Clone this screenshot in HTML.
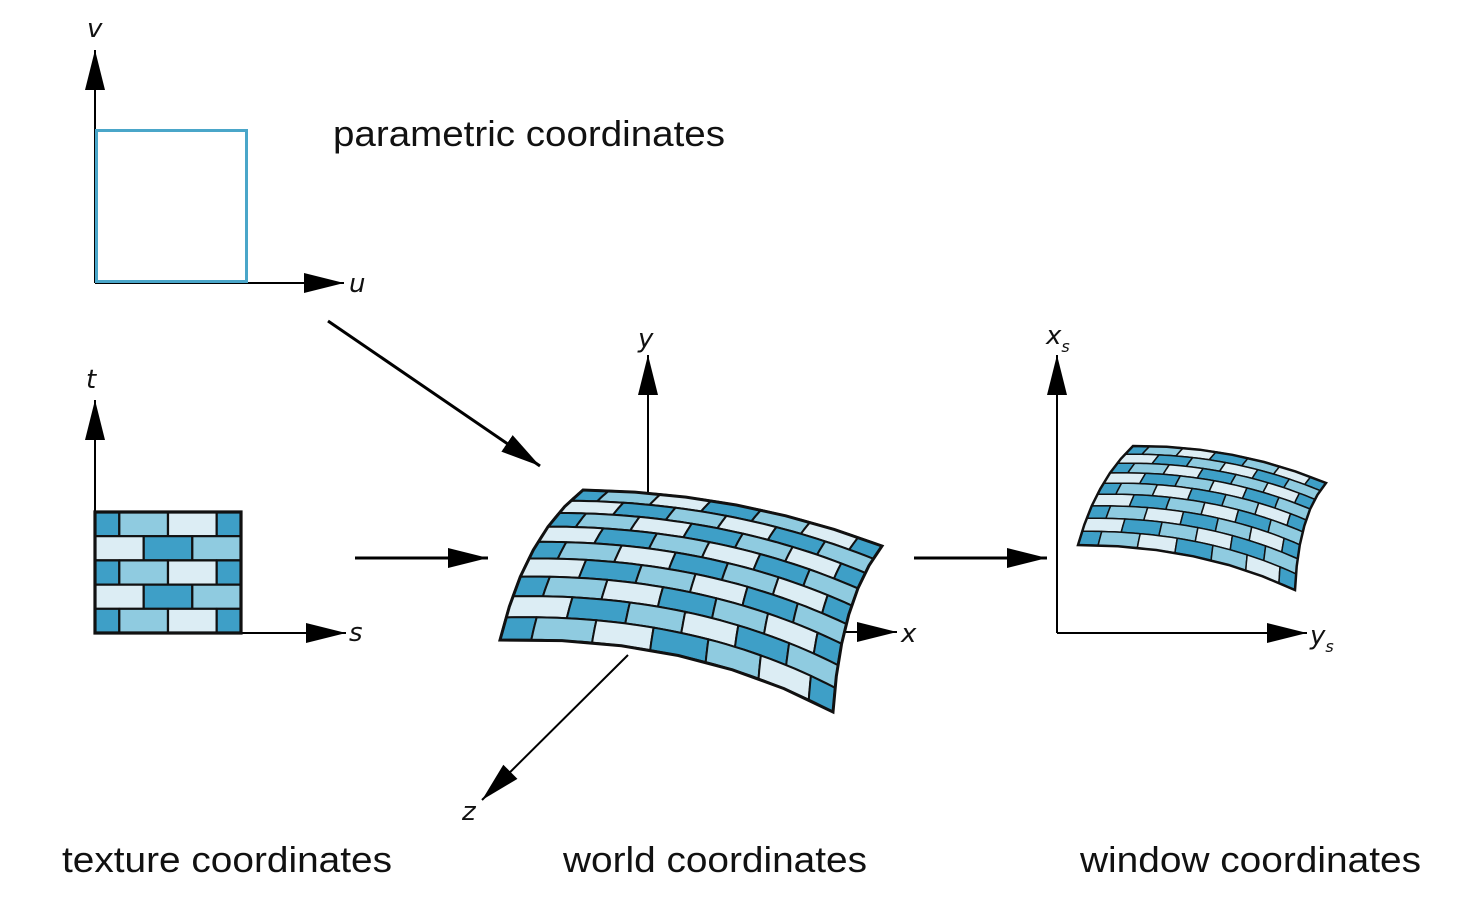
<!DOCTYPE html>
<html><head><meta charset="utf-8"><style>
html,body{margin:0;padding:0;background:#fff;}
svg{display:block;}
.lbl{font-family:"Liberation Sans",sans-serif;font-size:36px;fill:#111;}
.ax{font-family:"DejaVu Sans",sans-serif;font-style:italic;font-size:26px;fill:#111;}
</style></head><body>
<svg id="s" width="1461" height="912" viewBox="0 0 1461 912">
<defs>
<marker id="ahb" viewBox="0 0 10 10" refX="10" refY="5" markerWidth="40" markerHeight="40" markerUnits="userSpaceOnUse" orient="auto">
<path d="M0,2.5 L10,5 L0,7.5 z" fill="#000"/></marker>
</defs>
<g id="axes" stroke="#000" stroke-width="2" fill="none">
<line x1="95" y1="283" x2="95" y2="50" marker-end="url(#ahb)"/>
<line x1="95" y1="283" x2="344" y2="283" marker-end="url(#ahb)"/>
<rect x="96.5" y="130.5" width="150" height="151" stroke="#4aa6c9" stroke-width="3"/>
<line x1="95" y1="633" x2="95" y2="400" marker-end="url(#ahb)"/>
<line x1="95" y1="633" x2="346" y2="633" marker-end="url(#ahb)"/>
<line x1="328" y1="321" x2="540" y2="466" stroke-width="3" marker-end="url(#ahb)"/>
<line x1="355" y1="558" x2="488" y2="558" stroke-width="3" marker-end="url(#ahb)"/>
<line x1="914" y1="558" x2="1047" y2="558" stroke-width="3" marker-end="url(#ahb)"/>
<line x1="648" y1="495" x2="648" y2="355" marker-end="url(#ahb)"/>
<line x1="830" y1="632" x2="897" y2="632" marker-end="url(#ahb)"/>
<line x1="628" y1="655" x2="482" y2="800" marker-end="url(#ahb)"/>
<line x1="1057" y1="633" x2="1057" y2="355" marker-end="url(#ahb)"/>
<line x1="1057" y1="633" x2="1307" y2="633" marker-end="url(#ahb)"/>
</g>
<g id="tex"></g>
<g id="world"></g>
<g id="win"></g>
<text class="ax" x="87" y="37">v</text>
<text class="ax" x="349" y="292">u</text>
<text class="ax" x="86" y="388">t</text>
<text class="ax" x="349" y="641">s</text>
<text class="ax" x="638" y="347">y</text>
<text class="ax" x="901" y="642">x</text>
<text class="ax" x="462" y="820">z</text>
<text class="ax" x="1046" y="344">x<tspan font-size="16" dy="8">s</tspan></text>
<text class="ax" x="1310" y="644">y<tspan font-size="16" dy="8">s</tspan></text>
<text class="lbl" x="333" y="146" textLength="392" lengthAdjust="spacingAndGlyphs">parametric coordinates</text>
<text class="lbl" x="62" y="872" textLength="330" lengthAdjust="spacingAndGlyphs">texture coordinates</text>
<text class="lbl" x="563" y="872" textLength="304" lengthAdjust="spacingAndGlyphs">world coordinates</text>
<text class="lbl" x="1080" y="872" textLength="341" lengthAdjust="spacingAndGlyphs">window coordinates</text>
</svg>
<script>
const colors=['#3e9fc7','#8fcbe0','#dcedf4'];
const NS='http://www.w3.org/2000/svg';
function q(a,c,b,t){return [(1-t)*(1-t)*a[0]+2*t*(1-t)*c[0]+t*t*b[0],(1-t)*(1-t)*a[1]+2*t*(1-t)*c[1]+t*t*b[1]];}
function patch(S){return function(u,v){
 const T=q(S.tl,S.tc,S.tr,u),B=q(S.bl,S.bc,S.br,u),L=q(S.tl,S.lc,S.bl,v),R=q(S.tr,S.rc,S.br,v);
 const r=[];for(let i=0;i<2;i++){r[i]=(1-v)*T[i]+v*B[i]+(1-u)*L[i]+u*R[i]-((1-u)*(1-v)*S.tl[i]+u*(1-v)*S.tr[i]+(1-u)*v*S.bl[i]+u*v*S.br[i]);}return r;};}
function poly(P,u0,u1,v0,v1){let pts=[];const n=6;
 for(let i=0;i<=n;i++)pts.push(P(u0+(u1-u0)*i/n,v0));for(let i=0;i<=n;i++)pts.push(P(u1,v0+(v1-v0)*i/n));
 for(let i=n;i>=0;i--)pts.push(P(u0+(u1-u0)*i/n,v1));for(let i=n;i>=0;i--)pts.push(P(u0,v0+(v1-v0)*i/n));
 return pts.map(p=>p[0].toFixed(1)+','+p[1].toFixed(1)).join(' ');}
function bricks(g,P,rows,cols,sw){
 for(let r=0;r<rows;r++){const even=(r%2===0);const off=even?0.5:0;
  for(let c=-1;c<=cols;c++){let a=(c+off)/cols,b=(c+1+off)/cols;
   a=Math.max(0,a);b=Math.min(1,b);if(b<=a+1e-6)continue;
   const e=document.createElementNS(NS,'polygon');
   e.setAttribute('points',poly(P,a,b,r/rows,(r+1)/rows));
   const ci=even?((c+4)%3):((c+2)%3);
   e.setAttribute('fill',colors[ci]);
   e.setAttribute('stroke','#111');e.setAttribute('stroke-width',sw);e.setAttribute('stroke-linejoin','round');
   
   
   g.appendChild(e);}}
 const o=document.createElementNS(NS,'polygon');o.setAttribute('points',poly(P,0,1,0,1));
 o.setAttribute('fill','none');o.setAttribute('stroke','#111');o.setAttribute('stroke-width',sw+1);
 
 
 g.appendChild(o);}
bricks(document.getElementById('tex'),(u,v)=>[95+146*u,512+121*v],5,3,2.2);
bricks(document.getElementById('world'),patch({tl:[583,490],tr:[882,546],bl:[500,640],br:[833,712],tc:[740,492],bc:[690,635],lc:[525,535],rc:[840,600]}),9,6,2);
bricks(document.getElementById('win'),patch({tl:[1133,446],tr:[1326,483],bl:[1078,545],br:[1295,590],tc:[1235,445],bc:[1200,545],lc:[1095,482],rc:[1298,515]}),9,6,1.5);
</script>
</body></html>
